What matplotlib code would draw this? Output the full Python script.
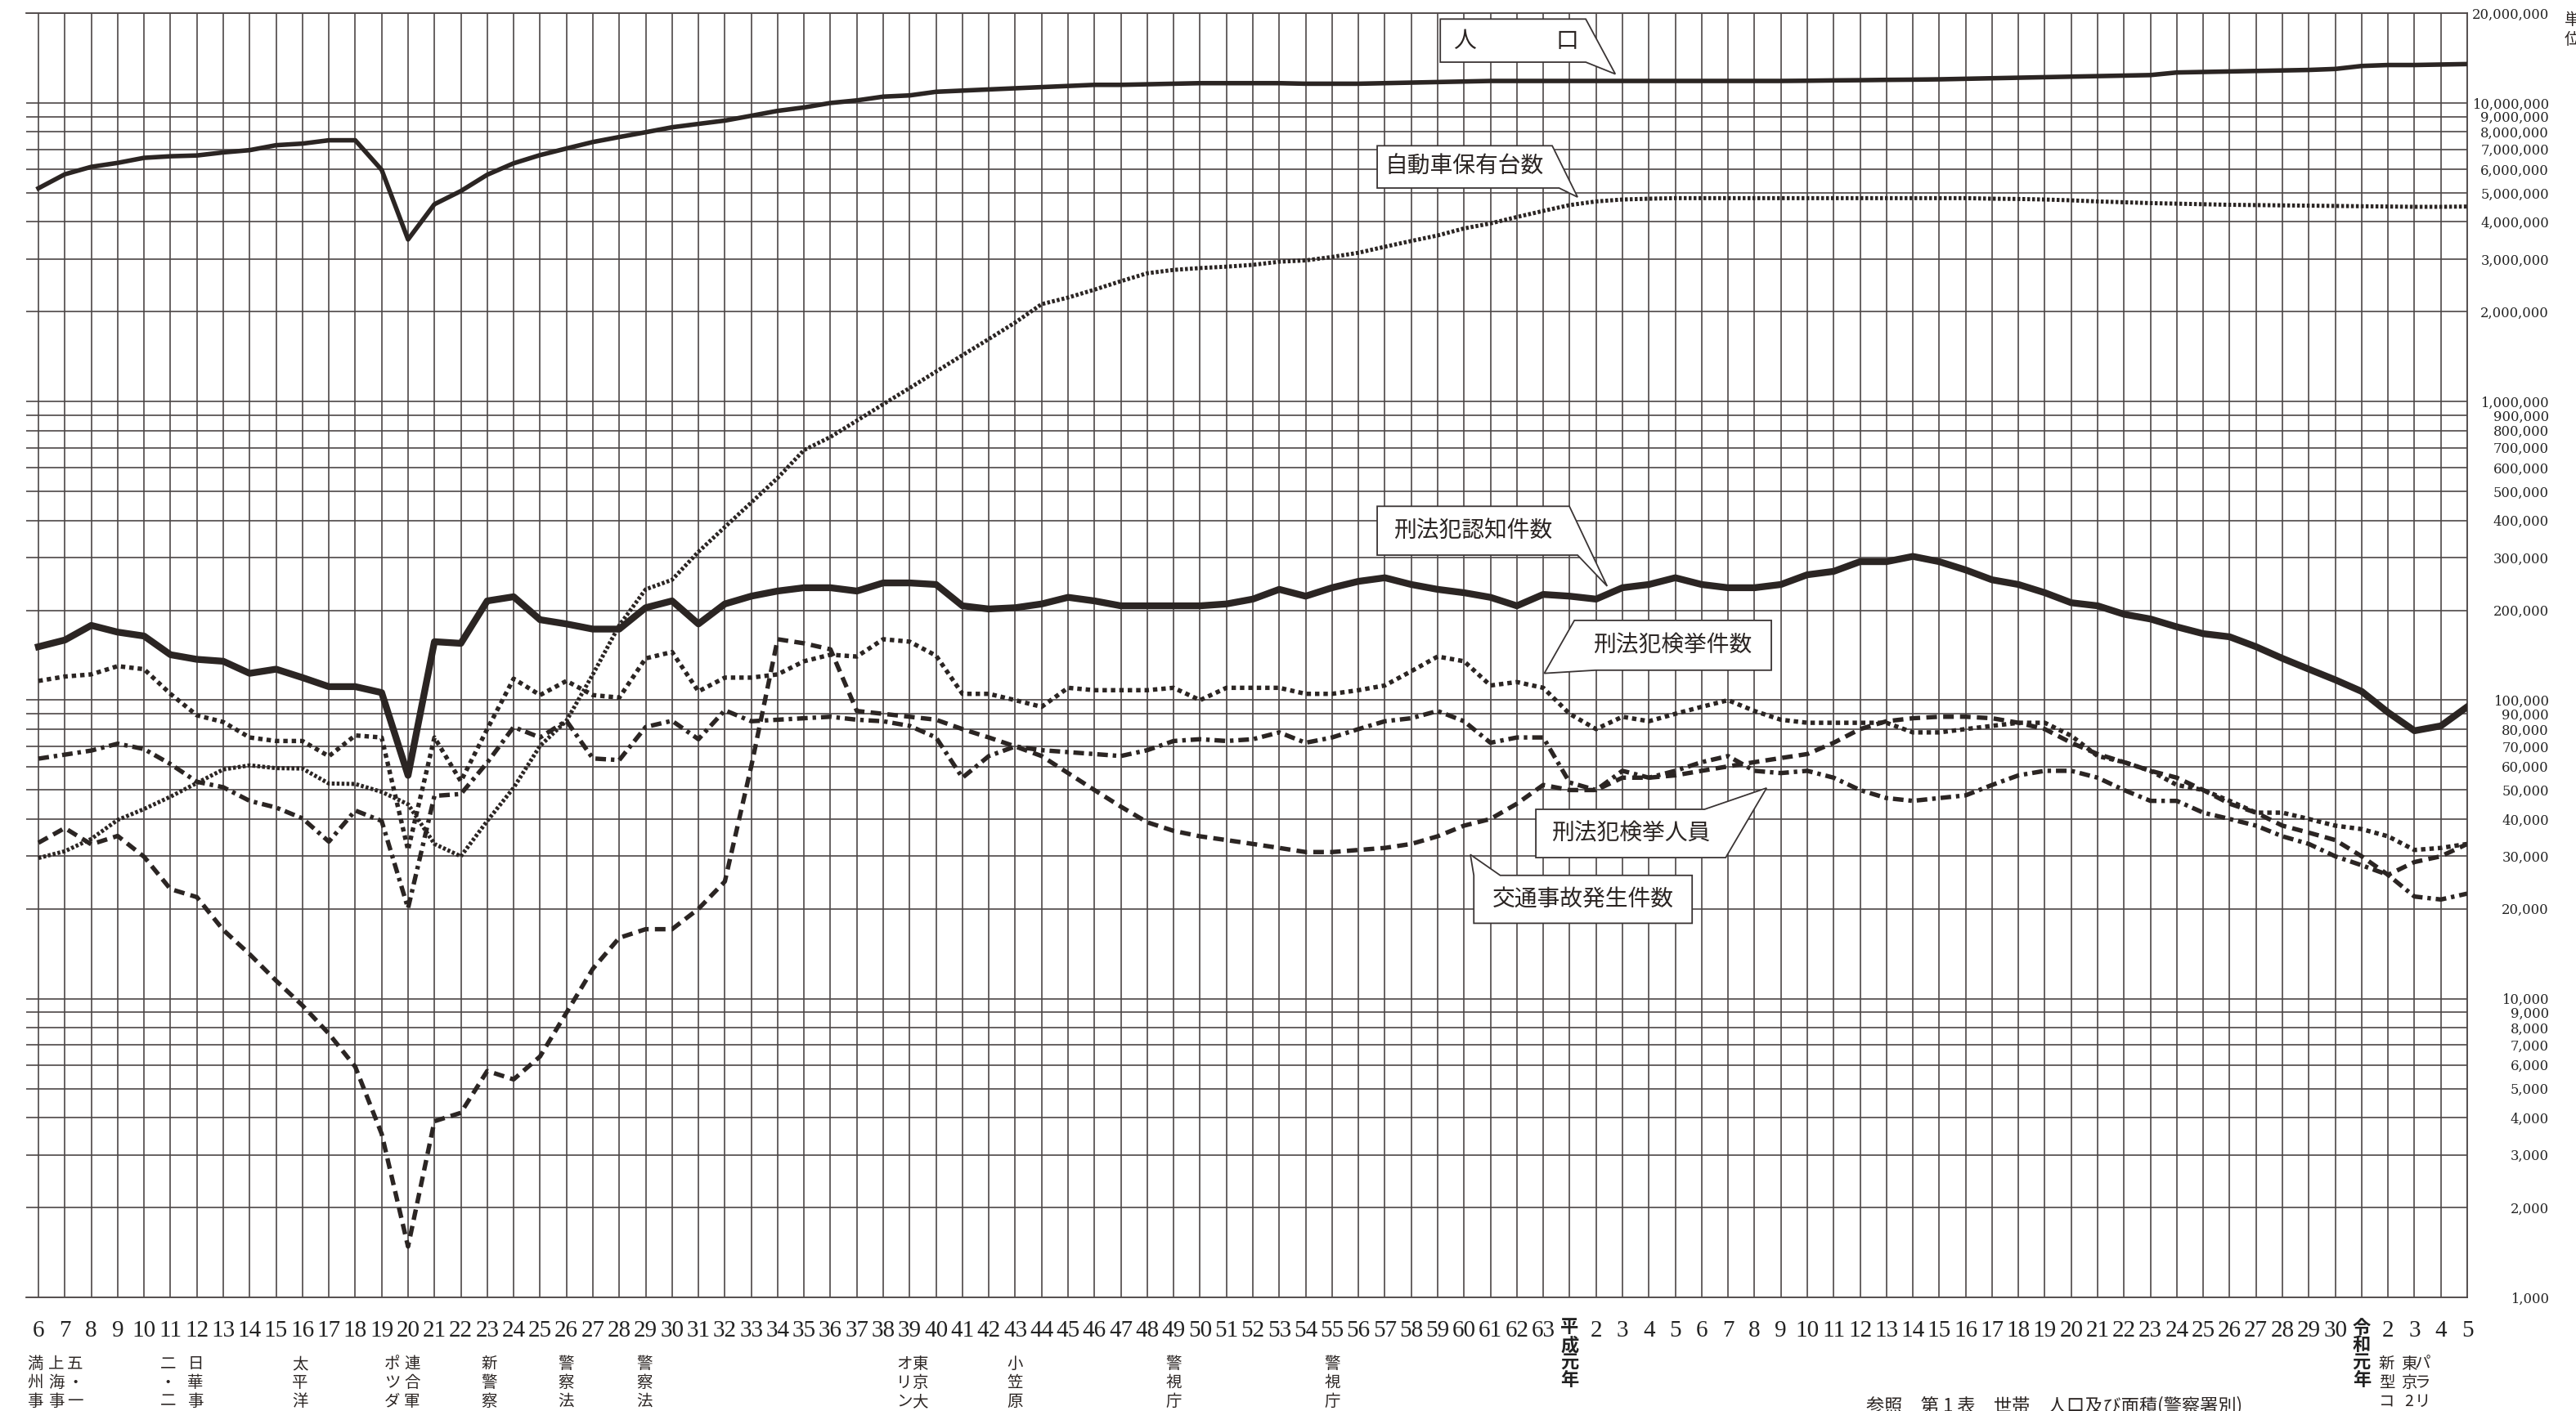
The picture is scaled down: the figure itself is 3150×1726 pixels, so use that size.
import matplotlib
matplotlib.use("Agg")
import matplotlib.pyplot as plt
from matplotlib.patches import Polygon
from matplotlib.transforms import blended_transform_factory

plt.rcParams['font.family'] = ['Liberation Serif', 'Noto Sans CJK JP']

W, H = 3150, 1726

# x axis: 昭和6年 .. 令和5年
year_labels = ([str(n) for n in range(6, 64)]
               + ['平\n成\n元\n年'] + [str(n) for n in range(2, 31)]
               + ['令\n和\n元\n年'] + [str(n) for n in range(2, 6)])

# values in thousands
population = [5180, 5770, 6110, 6300, 6550, 6630, 6670, 6830,
              6950, 7220, 7310, 7500, 7500, 5970,
              3490,
              4580, 5070, 5750, 6280, 6690,
              7040, 7400, 7690, 7980, 8290, 8510, 8730, 9060, 9410, 9660,
              10000, 10200, 10500, 10600, 10900, 11000, 11100, 11200, 11300, 11400,
              11500, 11500, 11550, 11600, 11650, 11650, 11650, 11650, 11600, 11600,
              11600, 11650, 11700, 11750, 11800, 11850, 11850, 11850,
              11850, 11850, 11850, 11850, 11850, 11850, 11850, 11850, 11850, 11870,
              11900, 11920, 11950, 11970, 12000, 12050, 12100, 12150, 12200, 12250,
              12300, 12350, 12400, 12650, 12700, 12750, 12800, 12850, 12900, 13000,
              13300, 13400, 13400, 13450, 13500]

vehicles = [29.6, 31.2, 34.3, 39.7, 43.2, 47.5, 52.8, 58.6, 60.5, 59.2, 59.0,
            52.6, 52.4, 49.3, 44.8, 33.0, 30.0,
            39.4, 50.9, 70.3, 85.3, 122, 178, 235, 253, 314, 380,
            459, 555, 688, 761, 863, 980, 1110, 1260, 1430, 1620,
            1840, 2120, 2230, 2370, 2530, 2690, 2760, 2800, 2830, 2870,
            2940, 2970, 3050, 3150, 3300, 3450, 3600, 3800, 3950, 4150, 4350,
            4550, 4680, 4750, 4780, 4800, 4800, 4800, 4800, 4800, 4800,
            4800, 4800, 4800, 4800, 4800, 4800, 4780, 4770, 4750, 4720,
            4680, 4650, 4620, 4600, 4580, 4560, 4550, 4540, 4530, 4520,
            4510, 4500, 4490, 4490, 4500]

ninchi = [151, 159, 178, 169, 164, 142, 137, 135, 123, 127, 119, 111, 111, 106,
          56,
          157, 155, 215, 222, 186, 180,
          173, 173, 204, 215, 180, 210, 223, 232, 238, 238,
          232, 247, 247, 244, 207, 202, 204, 210, 221, 215,
          207, 207, 207, 207, 210, 218, 235, 223, 238, 250,
          257, 244, 235, 229, 221, 207, 226,
          223, 218, 238, 244, 257, 244, 238, 238, 244, 263,
          270, 291, 291, 303, 291, 273, 253, 244, 229, 212,
          207, 194, 187, 176, 167, 163, 151, 138, 127, 117,
          107, 91, 79, 82, 95]

kenkyo_ken = [116, 120, 122, 130, 127, 105, 89, 84.5, 75, 73, 73, 64.9, 76.2, 75,
              31.5, 75, 53.5, 80, 118, 104, 116,
              104, 102, 138, 145, 107, 119,
              119, 122, 135, 142, 140, 160, 157, 141, 105, 105,
              100, 95, 110, 108, 108, 108, 110, 100, 110, 110,
              110, 105, 105, 108, 112, 125, 140, 135, 112, 115,
              110, 90, 80, 88, 85, 90, 95, 100, 92, 86,
              84, 84, 84, 84, 78, 78, 80, 82, 84, 84,
              76, 65, 62, 58, 52, 50, 46, 42, 42, 40,
              38, 37, 35, 31.5, 32, 33]

kenkyo_jin = [63.7, 65.7, 67.8, 71.5, 68.6, 61.1, 53.3, 51.1, 46.0, 43.7, 40.2, 33.6, 42.7, 39.4,
              20.1, 47.8, 48.5, 61.8, 81.3, 75, 85.3,
              63.8, 63.0, 81.3, 85.3, 74, 92.5,
              85, 86, 87, 88, 86, 85, 82, 75, 55, 65,
              70, 68, 67, 66, 65, 68, 73, 74, 73, 74,
              78, 72, 75, 80, 85, 87, 92, 85, 72, 75,
              75, 53, 50, 58, 55, 58, 62, 65, 58, 57,
              58, 55, 50, 47, 46, 47, 48, 52, 56, 58,
              58, 55, 50, 46, 46, 42, 40, 38, 35, 33,
              30, 28, 26, 22, 21.5, 22.5]

jiko = [33.3, 37.3, 32.9, 35.1, 29.9, 23.3, 21.9, 17.0, 14.1, 11.5, 9.5, 7.64, 5.92, 3.53,
        1.48, 3.89, 4.15, 5.73, 5.37, 6.41, 8.98, 12.6, 16.0, 17.1, 17.1, 20.0, 24.7,
        60, 160, 155, 148, 92, 90, 88, 86, 80, 75,
        70, 65, 57, 50, 44, 39, 36.5, 35, 34, 33,
        32, 31, 31, 31.5, 32, 33, 35, 38, 40, 45,
        52, 50, 50, 55, 55, 56, 58, 60, 62, 64,
        66, 72, 80, 85, 87, 88, 88, 87, 84, 80,
        72, 66, 62, 58, 55, 50, 45, 42, 38, 36,
        34, 30, 26, 28.7, 30, 33]

grid_values = [m * 10 ** k for k in range(3, 7) for m in range(1, 10)] + [10_000_000, 20_000_000]
grid_labels = [f"{v:,}" for v in grid_values]

events = [(-0.12, '満州事'), (0.68, '上海事'), (1.39, '五・一'),
          (4.9, '二・二'), (5.95, '日華事'), (9.9, '太平洋'),
          (13.4, 'ポツダ'), (14.15, '連合軍'), (17.06, '新警察'),
          (19.98, '警察法'), (22.95, '警察法'),
          (32.8, 'オリン'), (33.4, '東京大'), (37.0, '小笠原'),
          (43.0, '警視庁'), (49.0, '警視庁'),
          (88.95, '新型コ'), (89.8, '東京2'), (90.3, 'パラリ')]

ink = '#2b2523'
gridc = '#4d4747'

fig = plt.figure(figsize=(W / 100, H / 100), dpi=100)
ax = fig.add_axes([32 / W, 1 - 1587 / H, (3017 - 32) / W, (1587 - 16) / H])

x = list(range(len(year_labels)))
k = 1000
ax.plot(x, [v * k for v in population], color=ink, lw=4.0, solid_joinstyle='round', zorder=5)
ax.plot(x, [v * k for v in vehicles], color=ink, lw=3.6, ls=(0, (0.7, 0.5)), zorder=5)
ax.plot(x, [v * k for v in ninchi], color=ink, lw=6.0, solid_joinstyle='round', zorder=5)
ax.plot(x, [v * k for v in kenkyo_ken], color=ink, lw=3.9, ls=(0, (1.0, 0.9)), zorder=5)
ax.plot(x, [v * k for v in kenkyo_jin], color=ink, lw=3.9, ls=(0, (2.4, 1.1, 0.8, 1.1)), zorder=5)
ax.plot(x, [v * k for v in jiko], color=ink, lw=3.9, ls=(0, (2.4, 1.4)), zorder=5)

ax.set_yscale('log')
ax.set_ylim(1000, 2e7)
ax.set_xlim(-0.465, len(year_labels) - 1)

ax.set_xticks(x)
ax.set_xticklabels(year_labels, fontsize=21, color='#222222')
for lab in ax.get_xticklabels():
    if '\n' in lab.get_text():
        lab.set_fontsize(16)
        lab.set_fontweight('bold')
        lab.set_linespacing(1.05)
ax.tick_params(axis='x', length=0, pad=20)

ax.yaxis.tick_right()
ax.set_yticks(grid_values)
ax.set_yticklabels(grid_labels, fontsize=11.8, fontfamily='DejaVu Serif')
ax.yaxis.set_minor_locator(matplotlib.ticker.NullLocator())
ax.tick_params(axis='y', length=0, pad=72, colors='#222222')
for lab in ax.get_yticklabels():
    lab.set_ha('right')

ax.grid(True, which='major', color=gridc, lw=1.2)
ax.set_axisbelow(True)
for side in ['top', 'right', 'bottom']:
    ax.spines[side].set_color(gridc)
    ax.spines[side].set_linewidth(1.3)
ax.spines['left'].set_visible(False)


def callout(text, x0, x1, top, bot, pts, size=20, spaced=None):
    poly = Polygon(pts, closed=True, facecolor='white', edgecolor='#3a3434', lw=1.3, zorder=8)
    ax.add_patch(poly)
    ymid = (top * bot) ** 0.5
    if spaced:
        for xi, ch in spaced:
            ax.text(xi, ymid, ch, fontsize=size, ha='center', va='center',
                    fontfamily='Noto Sans CJK JP', color=ink, zorder=9)
    else:
        ax.text((x0 + x1) / 2, ymid, text, fontsize=size, ha='center', va='center',
                fontfamily='Noto Sans CJK JP', color=ink, zorder=9)


x0, x1, top, bot, tip = 53.10, 58.61, 19.1e6, 13.7e6, (59.73, 12.5e6)
callout('人口', x0, x1, top, bot, [(x0, top), (x1, top), tip, (x1, bot), (x0, bot)],
        spaced=[(54.03, '人'), (57.9, '口')])
x0, x1, top, bot, tip = 50.71, 57.34, 7.19e6, 5.19e6, (58.30, 4.84e6)
callout('自動車保有台数', x0, x1, top, bot, [(x0, top), (x1, top), tip, (57.6, bot), (x0, bot)])
x0, x1, top, bot, tip = 50.71, 57.99, 446e3, 306e3, (59.42, 241e3)
callout('刑法犯認知件数', x0, x1, top, bot, [(x0, top), (x1, top), tip, (58.3, bot), (x0, bot)])
x0, x1, top, bot, tip = 58.18, 65.64, 185e3, 126e3, (57.04, 123e3)
callout('刑法犯検挙件数', x0, x1, top, bot, [(x0, top), (x1, top), (x1, bot), (x0 + 0.8, bot), tip])
x0, x1, top, bot, tip = 56.72, 63.91, 43.1e3, 29.7e3, (65.46, 50.8e3)
callout('刑法犯検挙人員', x0, x1, top, bot, [(x0, top), (x1 - 0.8, top), tip, (x1, bot), (x0, bot)])
x0, x1, top, bot, tip = 54.37, 62.64, 25.9e3, 17.9e3, (54.24, 30.4e3)
callout('交通事故発生件数', x0, x1, top, bot, [tip, (x0 + 1.0, top), (x1, top), (x1, bot), (x0, bot), (x0, top)])

# event notes below the year labels
tr = blended_transform_factory(ax.transData, ax.transAxes)
ev_top = (1587 - 1658) / (1587 - 16)
for xi, txt in events:
    ax.text(xi, ev_top, '\n'.join(txt), transform=tr, fontsize=14, ha='center', va='top',
            linespacing=1.12, fontfamily='Noto Sans CJK JP', color=ink, clip_on=False)

fig.text(2282 / W, 1 - 1708 / H, '参照　第 1 表　世帯　人口及び面積(警察署別)', fontsize=16,
         ha='left', va='top', fontfamily='Noto Sans CJK JP', color=ink)
fig.text(3136 / W, 1 - 14 / H, '単\n位', fontsize=14, ha='left', va='top',
         fontfamily='Noto Sans CJK JP', color=ink)

fig.savefig('out.png', dpi=100)
